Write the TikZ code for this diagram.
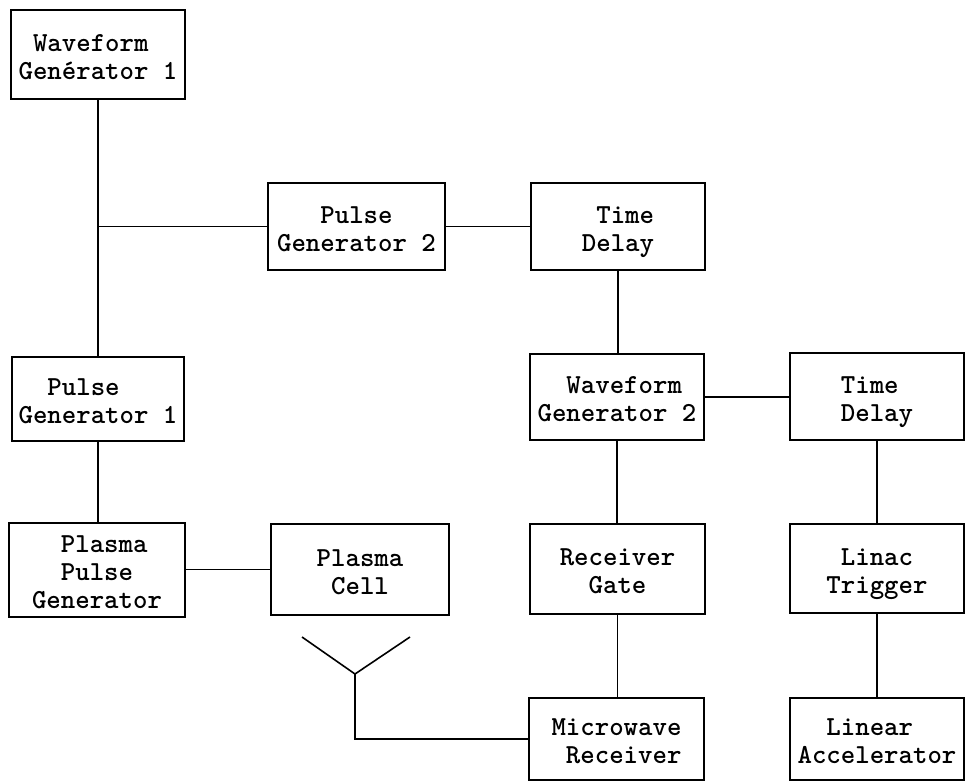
\documentclass[tikz,border=0pt]{standalone}
\newcommand\btext[1]{\raisebox{0pt}[\dimexpr\height+10pt\relax][\depth]{\begin{tabular}{@{}l@{}}#1\end{tabular}}}
\begin{document}
\begin{tikzpicture}[x=1pt,y=-1pt,
  box/.style={draw=black, line width=2pt, inner sep=0pt,
    font=\ttfamily\fontseries{b}\fontsize{27.5}{28}\selectfont},
  wire/.style={draw=black, line width=1.6pt}]
\useasboundingbox (0,0) rectangle (967,784);
% boxes
\node[box, minimum width=174, minimum height=89] (wg1) at (98,54.5) {\btext{\phantom{X}Waveform\\Genérator 1}};
\node[box, minimum width=177, minimum height=87] (pg2) at (356.5,226.5) {\btext{\phantom{XXX}Pulse\\Generator 2}};
\node[box, minimum width=174, minimum height=87] (td1) at (618,226.5) {\btext{\phantom{X}Time\\Delay}};
\node[box, minimum width=172, minimum height=84] (pg1) at (98,399) {\btext{\phantom{XX}Pulse\\Generator 1}};
\node[box, minimum width=174, minimum height=86] (wg2) at (617,397) {\btext{\phantom{XX}Waveform\\Generator 2}};
\node[box, minimum width=174, minimum height=87] (td2) at (877,396.5) {\btext{Time\\Delay}};
\node[box, minimum width=176, minimum height=91] (ppg) at (97,569.5) {\btext{\phantom{XX}Plasma\\\phantom{XX}Pulse\\Generator}};
\node[box, minimum width=178, minimum height=91] (pc) at (360,569.5) {\btext{Plasma\\\phantom{X}Cell}};
\node[box, minimum width=175, minimum height=90] (rg) at (617.5,569) {\btext{Receiver\\\phantom{XX}Gate}};
\node[box, minimum width=174, minimum height=89] (lt) at (877,568.5) {\btext{\phantom{X}Linac\\Trigger}};
\node[box, minimum width=175, minimum height=82] (mr) at (616.5,739) {\btext{Microwave\\\phantom{X}Receiver}};
\node[box, minimum width=174, minimum height=82] (la) at (877,739) {\btext{\phantom{XX}Linear\\Accelerator}};
% connectors
\coordinate (j) at (wg1.south |- pg2.west);
\draw[wire] (wg1.south) -- (wg1.south |- pg1.north);
\draw[wire] (j) -- (pg2.west);
\draw[wire] (pg2.east) -- (pg2.east -| td1.west);
\draw[wire] (td1.south) -- (td1.south |- wg2.north);
\draw[wire] (wg2.east) -- (wg2.east -| td2.west);
\draw[wire] (wg2.south) -- (wg2.south |- rg.north);
\draw[wire] (td2.south) -- (td2.south |- lt.north);
\draw[wire] (rg.south) -- (rg.south |- mr.north);
\draw[wire] (lt.south) -- (lt.south |- la.north);
\draw[wire] (pg1.south) -- (pg1.south |- ppg.north);
\draw[wire] (ppg.east) -- (ppg.east -| pc.west);
% antenna
\coordinate (al) at (302,637);
\coordinate (ap) at (355,674);
\coordinate (ar) at (410,637);
\draw[wire] (al) -- (ap) -- (ar);
\draw[wire] (ap) |- (mr.west);
\end{tikzpicture}
\end{document}
